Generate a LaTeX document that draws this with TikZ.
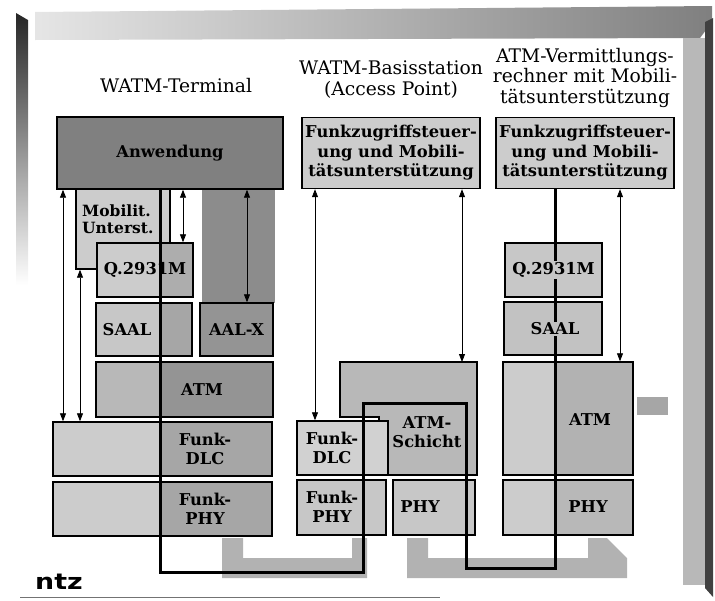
\documentclass[tikz,border=0pt]{standalone}
\usepackage{fontspec}
\setmainfont{DejaVu Serif}
\newfontfamily\ntzfont{DejaVu Sans}
\usetikzlibrary{arrows.meta}

\newcommand{\boxfont}{\bfseries\fontsize{16.3}{19.5}\selectfont}
\newcommand{\headfont}{\fontsize{18.7}{20.5}\selectfont}

\tikzset{
  stackbox/.style={draw, line width=1.4pt, inner sep=0pt, font=\boxfont, align=center},
  boxtext/.style={inner sep=0pt, font=\boxfont, align=center},
  headtext/.style={inner sep=0pt, font=\headfont, align=center, anchor=base},
  ctrlarrow/.style={line width=0.8pt, {Triangle[length=8pt,width=6pt]}-{Triangle[length=8pt,width=6pt]}},
  sigline/.style={line width=3pt},
  rshade/.style 2 args={path picture={\fill[#1] (#2 |- path picture bounding box.north) rectangle (path picture bounding box.south east);}},
}

\begin{document}
\begin{tikzpicture}[x=1pt, y=-1pt]
\useasboundingbox (0,0) rectangle (715,600);
\coordinate (tsig) at (160,0);
\coordinate (ssig) at (555,0);

% frame of the figure
\shade[left color=black!10, right color=black!50] (35,12) -- (712,6) -- (712,22) -- (700,38) -- (35,40) -- cycle;
\fill[black!28] (683,38) rectangle (705,585);
\fill[black!75] (705,22) -- (713,18) -- (713,597) -- (705,588) -- cycle;
\shade[top color=black!85, bottom color=white] (16,13) -- (28,20) -- (28,285) -- (16,285) -- cycle;
\draw[black!55, line width=0.8pt] (20,597) -- (440,597);
\node[inner sep=0pt, anchor=base west, font=\ntzfont\bfseries\fontsize{22}{22}\selectfont] (ntz) at (35,589) {\scalebox{1.22}[1]{ntz}};

% column titles (base = last line)
\node[headtext] (thead) at (176,92) {WATM-Terminal};
\node[headtext] (bhead) at (391,95) {WATM-Basisstation\\(Access Point)};
\node[headtext] (shead) at (585,103) {ATM-Vermittlungs-\\rechner mit Mobili-\\tätsunterstützung};

% WATM-Terminal
\fill[black!45] (202,189) rectangle (275,303);
\node[stackbox, fill=black!20, minimum width=94pt, minimum height=80pt] (tmob) at (123,229) {};
\node[boxtext, align=left, anchor=base west, font=\bfseries\fontsize{15.5}{16.5}\selectfont] (tmobtxt) at (82,233) {Mobilit.\\Unterst.};
\node[stackbox, fill=black!50, minimum width=226pt, minimum height=72pt] (anw) at (170,153) {Anwendung};
\node[stackbox, fill=black!20, rshade={black!32}{tsig}, minimum width=96pt, minimum height=54pt] (tq) at (145,270) {Q.2931M};
\node[stackbox, fill=black!22, rshade={black!35}{tsig}, minimum width=96pt, minimum height=53pt] (tsaal) at (144,329.5) {};
\node[boxtext] (tsaaltxt) at (127,330) {SAAL};
\node[stackbox, fill=black!42, minimum width=73pt, minimum height=53pt] (taal) at (236.5,329.5) {AAL-X};
\node[stackbox, fill=black!28, rshade={black!42}{tsig}, minimum width=177pt, minimum height=55pt] (tatm) at (184.5,389.5) {};
\node[boxtext] (tatmtxt) at (202,390) {ATM};
\node[stackbox, fill=black!20, rshade={black!35}{tsig}, minimum width=219pt, minimum height=54pt] (tdlc) at (162.5,449) {};
\node[boxtext] (tdlctxt) at (205,449) {Funk-\\DLC};
\node[stackbox, fill=black!20, rshade={black!35}{tsig}, minimum width=219pt, minimum height=54pt] (tphy) at (162.5,509) {};
\node[boxtext] (tphytxt) at (205,509) {Funk-\\PHY};

% WATM-Basisstation
\node[stackbox, fill=black!20, minimum width=178pt, minimum height=71pt] (bctl) at (391,153) {Funkzugriffsteuer-\\ung und Mobili-\\tätsunterstützung};
\draw[line width=1.4pt, fill=black!28] (340,362) -- (477,362) -- (477,475) -- (379,475) -- (379,417) -- (340,417) -- cycle;
\coordinate (batmtop) at (462,362);
\node[boxtext] (batmtxt) at (427,432) {ATM-\\Schicht};
\node[stackbox, fill=black!18, minimum width=91pt, minimum height=54pt] (bdlc) at (342.5,448) {};
\node[boxtext] (bdlctxt) at (332,448) {Funk-\\DLC};
\node[stackbox, fill=black!22, minimum width=89pt, minimum height=55pt] (bfphy) at (341.5,507.5) {};
\node[boxtext] (bfphytxt) at (332,507) {Funk-\\PHY};
\node[stackbox, fill=black!22, minimum width=82pt, minimum height=55pt] (bphy) at (434,507.5) {};
\node[boxtext] (bphytxt) at (420,507) {PHY};

% ATM-Vermittlungsrechner
\node[stackbox, fill=black!20, minimum width=178pt, minimum height=71pt] (sctl) at (585,153) {Funkzugriffsteuer-\\ung und Mobili-\\tätsunterstützung};
\node[stackbox, fill=black!22, minimum width=97pt, minimum height=54pt] (sq) at (553.5,270) {};
\node[stackbox, fill=black!24, minimum width=98pt, minimum height=53pt] (ssaal) at (553,328.5) {};
\node[stackbox, fill=black!20, rshade={black!30}{ssig}, minimum width=130pt, minimum height=113pt] (satm) at (568,418.5) {};
\node[boxtext] (satmtxt) at (590,420) {ATM};
\node[stackbox, fill=black!20, rshade={black!28}{ssig}, minimum width=130pt, minimum height=55pt] (sphy) at (568,507.5) {};
\node[boxtext] (sphytxt) at (588,507) {PHY};
\fill[black!35] (637,397) rectangle (668,415);

% radio and wired links
\fill[black!30] (222,538) -- (243,538) -- (243,558) -- (352,558) -- (352,538) -- (367,538) -- (367,578) -- (222,578) -- cycle;
\fill[black!30] (407,538) -- (428,538) -- (428,558) -- (588,558) -- (588,538) -- (607,538) -- (627,558) -- (627,578) -- (407,578) -- cycle;

% signalling path
\draw[sigline] (tsig |- anw.south) -- (160,572) -- (363,572) -- (363,403) -- (466,403) -- (466,568) -- (555,568) -- (ssig |- sctl.south);
\node[boxtext, fill=black!22, inner sep=1pt] (sqtxt) at (553.5,270) {Q.2931M};
\node[boxtext, fill=black!24, inner sep=1pt] (ssaaltxt) at (555,329) {SAAL};

% management arrows
\draw[ctrlarrow] (63,0 |- anw.south) -- (63,0 |- tdlc.north);
\draw[ctrlarrow] (80,0 |- tmob.south) -- (80,0 |- tdlc.north);
\draw[ctrlarrow] (183,0 |- anw.south) -- (183,0 |- tq.north);
\draw[ctrlarrow] (247,0 |- anw.south) -- (247,0 |- taal.north);
\draw[ctrlarrow] (315,0 |- bctl.south) -- (315,0 |- bdlc.north);
\draw[ctrlarrow] (462,0 |- bctl.south) -- (batmtop);
\draw[ctrlarrow] (620,0 |- sctl.south) -- (620,0 |- satm.north);
\end{tikzpicture}
\end{document}
